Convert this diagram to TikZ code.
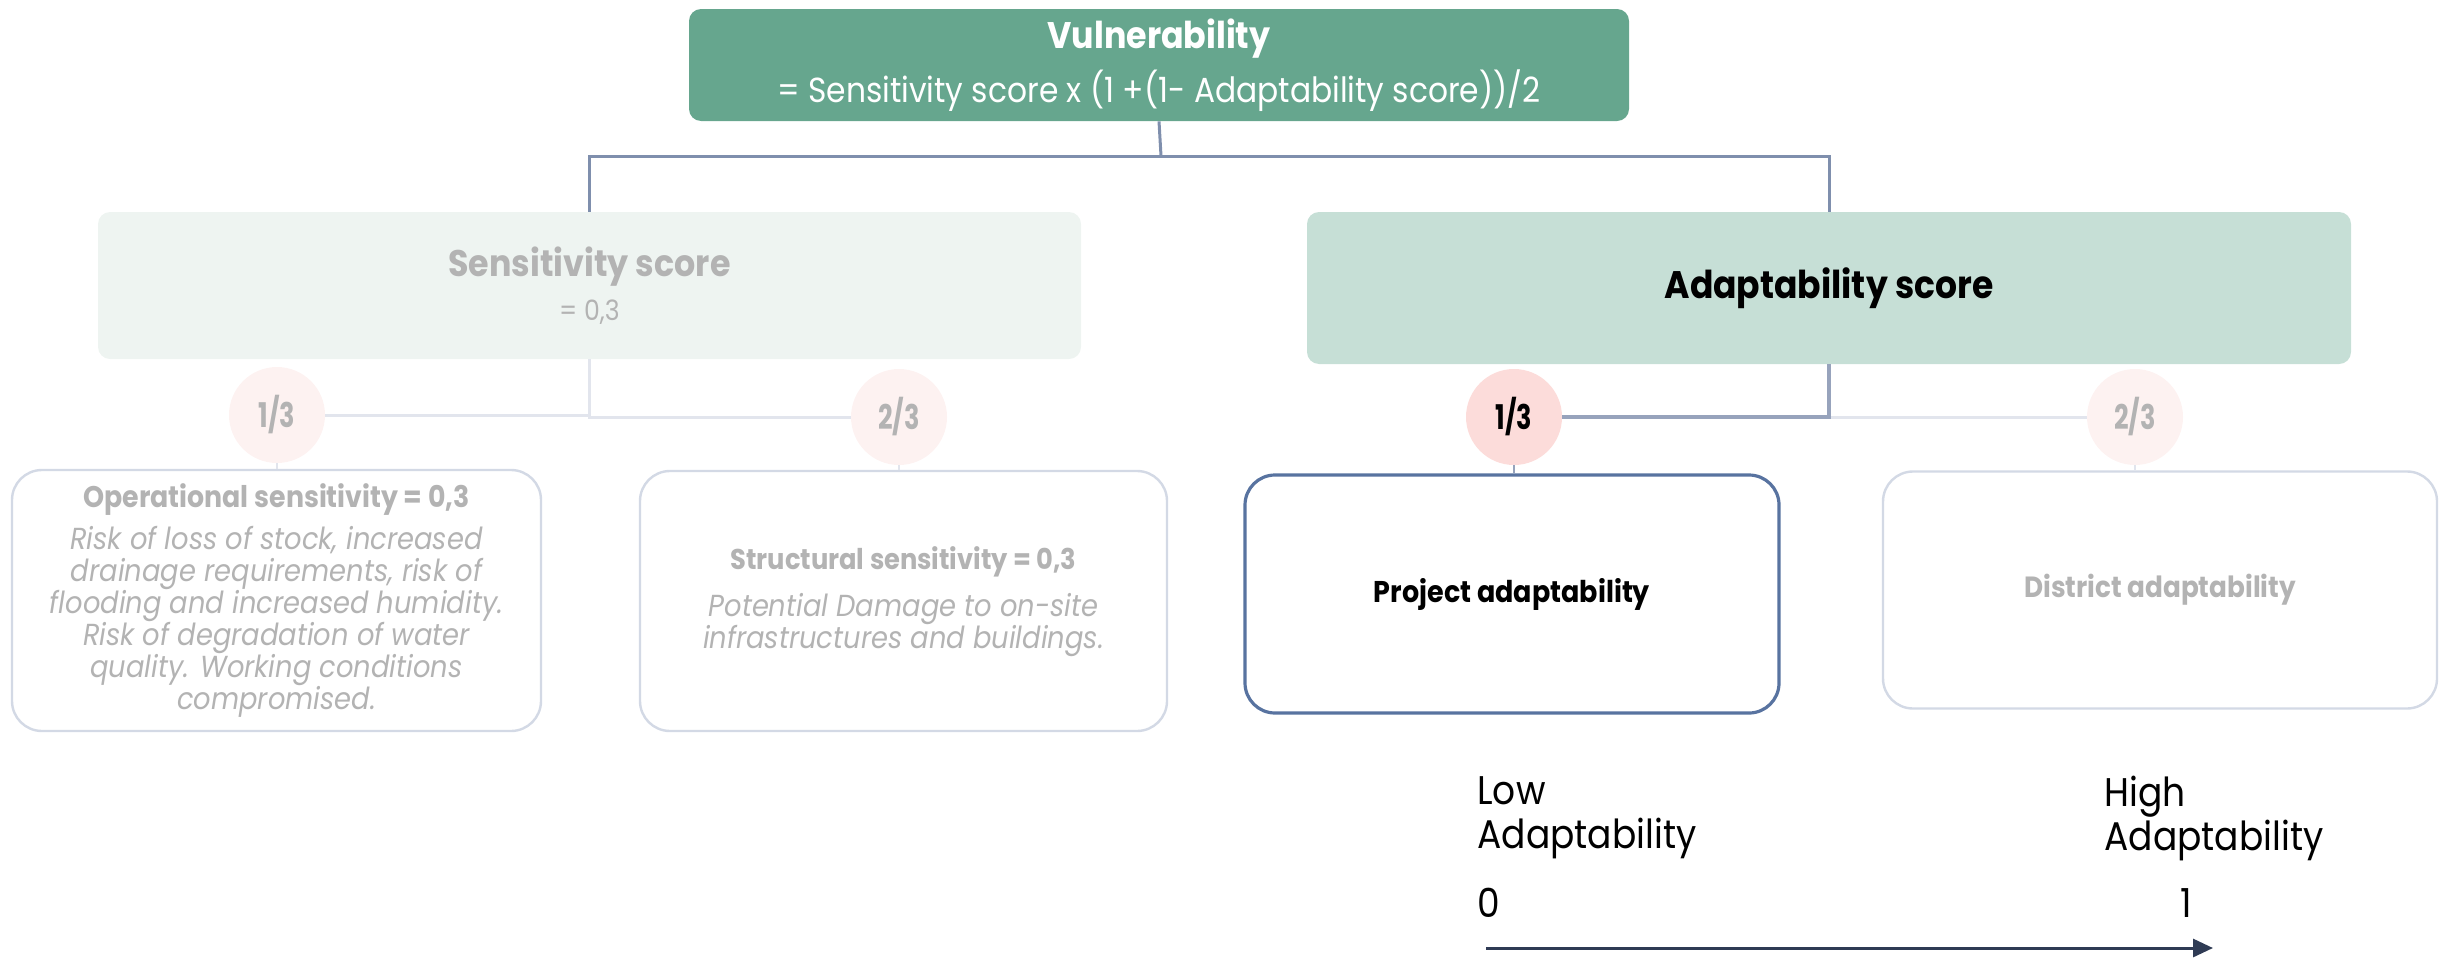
\documentclass[tikz,border=0pt]{standalone}
\usepackage{fontspec}
\setmainfont{Poppins}[FakeStretch=0.9]
\newfontfamily\condfont{Poppins}[FakeStretch=0.75]
\usetikzlibrary{arrows.meta}
\definecolor{vulnfill}{HTML}{66A68E}
\definecolor{sensfill}{HTML}{EEF4F1}
\definecolor{adaptfill}{HTML}{C6DFD6}
\definecolor{greytext}{HTML}{B3B3B3}
\definecolor{topline}{HTML}{7F8FAD}
\definecolor{paleline}{HTML}{E2E5ED}
\definecolor{darkline}{HTML}{97A3BC}
\definecolor{paleborder}{HTML}{D3D9E5}
\definecolor{projborder}{HTML}{5873A0}
\definecolor{palepink}{HTML}{FDF2F1}
\definecolor{pink}{HTML}{FCDCDA}
\definecolor{navy}{HTML}{2F3B54}
\tikzset{
  topbox/.style={rounded corners=6pt, inner sep=0pt, align=center},
  lowbox/.style={rounded corners=15pt, inner sep=0pt, align=center, draw=paleborder, line width=1.2pt, fill=white},
  weight/.style={circle, inner sep=0pt, minimum size=48pt, font=\condfont\bfseries\fontsize{17}{20}\selectfont},
  pale/.style={draw=paleline, line width=1.5pt},
  italbody/.style={font=\itshape\fontsize{15.2}{16}\selectfont, text=greytext},
  scalelbl/.style={font=\fontsize{20}{22}\selectfont, align=left, inner sep=0pt}
}
\begin{document}
\begin{tikzpicture}[x=0.5pt,y=-0.5pt]
\useasboundingbox (0,0) rectangle (2440,958);

% top level
\node[topbox, fill=vulnfill, text=white, minimum width=470pt, minimum height=56pt] (vuln) at (1159,65)
  {{\bfseries\fontsize{18.5}{22}\selectfont Vulnerability}\\[5pt]{\fontsize{17.4}{19}\selectfont = Sensitivity score x (1 +(1- Adaptability score))/2}};

\node[topbox, fill=sensfill, text=greytext, minimum width=491.5pt, minimum height=73.5pt] (sens) at (589.5,285.5)
  {{\bfseries\fontsize{18.5}{22}\selectfont Sensitivity score}\\[6pt]{\fontsize{14}{16}\selectfont = 0,3}};

\node[topbox, fill=adaptfill, text=black, minimum width=522pt, minimum height=76pt] (adapt) at (1829,288)
  {\bfseries\fontsize{19.2}{22}\selectfont Adaptability score};

% connectors from top
\coordinate (j) at (1161,156);
\draw[topline, line width=1.5pt] (vuln.south) -- (j);
\draw[topline, line width=1.5pt] (j) -| (sens.north);
\draw[topline, line width=1.5pt] (j) -| (adapt.north);

% weight circles
\node[weight, fill=palepink, text=greytext] (s1) at (277,415) {1/3};
\node[weight, fill=palepink, text=greytext] (s2) at (899,417) {2/3};
\node[weight, fill=pink, text=black] (a1) at (1514,417) {1/3};
\node[weight, fill=palepink, text=greytext] (a2) at (2135,417) {2/3};

% sensitivity connectors
\draw[pale] (sens.south) |- (s1.east);
\draw[pale] (sens.south) |- (s2.west);
% adaptability connectors
\draw[pale] (adapt.south) |- (a2.west);
\draw[darkline, line width=2pt] (adapt.south) |- (a1.east);

% lower boxes
\node[lowbox, minimum width=264.5pt, minimum height=130.5pt] (oper) at (276.5,600.5) {};
\node[font=\bfseries\fontsize{14.9}{17}\selectfont, text=greytext] (opert) at (276.5,500) {Operational sensitivity = 0,3};
\node[italbody, align=center] (operb) at (276.5,622)
  {Risk of loss of stock, increased\\drainage requirements, risk of\\flooding and increased humidity.\\Risk of degradation of water\\quality. Working conditions\\compromised.};

\node[lowbox, minimum width=263.5pt, minimum height=130pt] (struct) at (903.5,601) {};
\node[font=\bfseries\fontsize{14.3}{17}\selectfont, text=greytext] (structt) at (903.5,562) {Structural sensitivity = 0,3};
\node[italbody, align=center, font=\itshape\fontsize{15.2}{16}\selectfont] (structb) at (903.5,625)
  {Potential Damage to on-site\\infrastructures and buildings.};

\node[lowbox, draw=projborder, line width=1.6pt, minimum width=267pt, minimum height=119pt,
  font=\bfseries\fontsize{15}{17}\selectfont, text=black] (proj) at (1512,594) {Project adaptability};
\node[lowbox, minimum width=277pt, minimum height=118.5pt,
  font=\bfseries\fontsize{14.6}{17}\selectfont, text=greytext] (dist) at (2160,590) {District adaptability};

% short stems from circles to boxes
\draw[pale, line width=1pt] (s1.south) -- (s1.south |- oper.north);
\draw[pale, line width=1pt] (s2.south) -- (s2.south |- struct.north);
\draw[darkline, line width=1pt] (a1.south) -- (a1.south |- proj.north);
\draw[pale, line width=1pt] (a2.south) -- (a2.south |- dist.north);

% scale
\node[scalelbl, anchor=north west] (low) at (1477,776) {Low\\Adaptability};
\node[scalelbl, anchor=north west] (high) at (2104,776) {High\\Adaptability};
\node[scalelbl, anchor=north west] (zero) at (1477,888) {0};
\node[scalelbl, anchor=north west] (one) at (2180,888) {1};
\coordinate (ar0) at (1486,948);
\coordinate (ar1) at (2213,948);
\draw[navy, line width=1.5pt, -{Triangle[length=10pt,width=9pt]}] (ar0) -- (ar1);
\end{tikzpicture}
\end{document}
